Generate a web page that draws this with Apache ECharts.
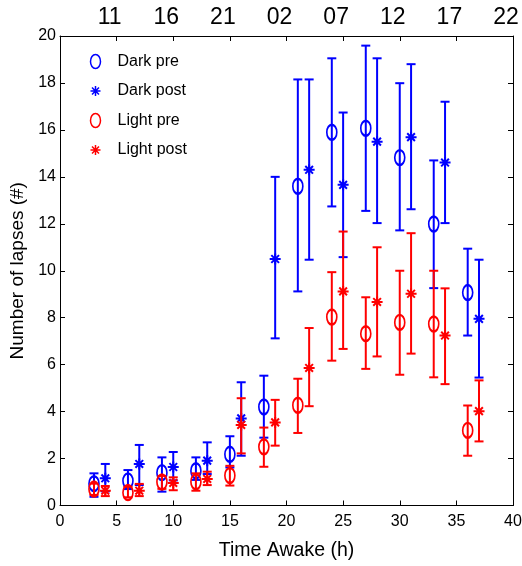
<!DOCTYPE html>
<html>
<head>
<meta charset="utf-8">
<script src="https://cdn.jsdelivr.net/npm/echarts@6/dist/echarts.min.js"></script>
<style>
html,body{margin:0;padding:0;background:#fff;}
#c{width:522px;height:566px;}
</style>
</head>
<body>
<div id="c"></div>
<script>
// ---- data ----
var xPre = [3, 6, 9, 12, 15, 18, 21, 24, 27, 30, 33, 36];
var xPost = [4, 7, 10, 13, 16, 19, 22, 25, 28, 31, 34, 37];

var darkPreMean = [0.93, 1.05, 1.40, 1.48, 2.18, 4.20, 13.60, 15.90, 16.07, 14.82, 11.99, 9.07];
var darkPreLow  = [0.37, 0.70, 0.59, 1.09, 1.62, 2.89, 9.12, 12.74, 12.55, 11.72, 9.26, 7.24];
var darkPreHigh = [1.37, 1.51, 2.05, 2.05, 2.95, 5.53, 18.15, 19.05, 19.59, 17.99, 14.70, 10.94];

var darkPostMean = [1.16, 1.77, 1.64, 1.91, 3.71, 10.50, 14.30, 13.66, 15.50, 15.69, 14.61, 7.95];
var darkPostLow  = [0.60, 0.87, 1.07, 1.34, 2.12, 7.12, 10.47, 10.58, 12.03, 12.62, 12.03, 5.45];
var darkPostHigh = [1.77, 2.58, 2.28, 2.69, 5.25, 14.00, 18.15, 16.74, 19.05, 18.80, 17.20, 10.47];

var lightPreMean = [0.70, 0.55, 1.00, 1.01, 1.28, 2.50, 4.27, 8.03, 7.32, 7.80, 7.73, 3.20];
var lightPreLow  = [0.45, 0.35, 0.71, 0.63, 0.85, 1.65, 3.09, 6.17, 5.82, 5.57, 5.46, 2.12];
var lightPreHigh = [0.93, 0.80, 1.26, 1.37, 1.69, 3.32, 5.40, 9.94, 8.87, 10.00, 10.00, 4.26];

var lightPostMean = [0.63, 0.63, 0.96, 1.13, 3.43, 3.54, 5.86, 9.12, 8.67, 9.02, 7.24, 4.02];
var lightPostLow  = [0.40, 0.40, 0.65, 0.87, 2.22, 2.55, 4.23, 6.67, 6.35, 6.47, 5.17, 2.73];
var lightPostHigh = [0.83, 0.92, 1.20, 1.44, 4.57, 4.50, 7.56, 11.67, 11.00, 11.60, 9.25, 5.33];

var bottomTicks = [0, 5, 10, 15, 20, 25, 30, 35, 40];
var topTickLabels = ['', '11', '16', '21', '02', '07', '12', '17', '22'];
var seriesNames = ['Dark pre', 'Dark post', 'Light pre', 'Light post'];

// ---- build ----
var BLUE = '#0000ff', RED = '#ff0000';
var ELLIPSE = 'path://M0,7C0,3.1 2.2,0 5,0C7.8,0 10,3.1 10,7C10,10.9 7.8,14 5,14C2.2,14 0,10.9 0,7Z';
var STAR = 'path://M5,0L5,10M0,5L10,5M1.5,1.5L8.5,8.5M8.5,1.5L1.5,8.5';

function pts(xs, m) { return xs.map(function (x, i) { return [x, m[i]]; }); }
function bars(xs, lo, hi) { return xs.map(function (x, i) { return [x, lo[i], hi[i]]; }); }

function errRender(color) {
  return function (params, api) {
    var x = api.value(0);
    var p1 = api.coord([x, api.value(1)]);
    var p2 = api.coord([x, api.value(2)]);
    var w = 4.5;
    var st = { stroke: color, lineWidth: 2 };
    return {
      type: 'group',
      children: [
        { type: 'line', shape: { x1: p1[0], y1: p1[1], x2: p2[0], y2: p2[1] }, style: st },
        { type: 'line', shape: { x1: p1[0] - w, y1: p1[1], x2: p1[0] + w, y2: p1[1] }, style: st },
        { type: 'line', shape: { x1: p2[0] - w, y1: p2[1], x2: p2[0] + w, y2: p2[1] }, style: st }
      ]
    };
  };
}

function errSeries(xs, lo, hi, color, z) {
  return { type: 'custom', renderItem: errRender(color), data: bars(xs, lo, hi), z: z, silent: true,
           encode: { x: 0, y: [1, 2] } };
}
function markSeries(name, xs, m, color, sym, size, z) {
  return { name: name, type: 'scatter', data: pts(xs, m), symbol: sym, symbolSize: size, z: z,
           itemStyle: { color: 'none', borderColor: color, borderWidth: 2, opacity: 1 } };
}

var font = 'Liberation Sans, Arial, sans-serif';
var chart = echarts.init(document.getElementById('c'));
chart.setOption({
  animation: false,
  backgroundColor: '#fff',
  grid: { left: 60, right: 9, top: 36, bottom: 60.5, show: false, containLabel: false, outerBoundsMode: 'none' },
  legend: {
    orient: 'vertical', left: 88, top: 52, padding: 0, itemGap: 12,
    itemWidth: 10, itemHeight: 14,
    textStyle: { fontSize: 16, fontFamily: font, color: '#000', padding: [0, 0, 0, 12] },
    data: [
      { name: seriesNames[0], icon: ELLIPSE, itemStyle: { color: 'none', borderColor: BLUE, borderWidth: 1.5 } },
      { name: seriesNames[1], icon: STAR, itemStyle: { color: 'none', borderColor: BLUE, borderWidth: 1.5 } },
      { name: seriesNames[2], icon: ELLIPSE, itemStyle: { color: 'none', borderColor: RED, borderWidth: 1.5 } },
      { name: seriesNames[3], icon: STAR, itemStyle: { color: 'none', borderColor: RED, borderWidth: 1.5 } }
    ]
  },
  xAxis: [
    { type: 'value', position: 'bottom', min: 0, max: 40, interval: 5,
      name: 'Time Awake (h)', nameLocation: 'middle', nameGap: 35,
      nameTextStyle: { fontSize: 19.5, fontFamily: font, color: '#000' },
      axisLine: { show: true, onZero: false, lineStyle: { color: '#000', width: 1 } },
      axisTick: { show: true, inside: true, length: 5, lineStyle: { color: '#000' } },
      axisLabel: { fontSize: 16, fontFamily: font, color: '#000', margin: 8,
        formatter: function (v) { return bottomTicks.indexOf(v) >= 0 ? String(v) : ''; } },
      splitLine: { show: false } },
    { type: 'value', position: 'top', min: 0, max: 40, interval: 5,
      axisLine: { show: true, onZero: false, lineStyle: { color: '#000', width: 1 } },
      axisTick: { show: true, inside: true, length: 5, lineStyle: { color: '#000' } },
      axisLabel: { fontSize: 23, fontFamily: font, color: '#000', margin: 7, padding: [0, 14, 0, 0],
        formatter: function (v) { return topTickLabels[bottomTicks.indexOf(v)] || ''; } },
      splitLine: { show: false } }
  ],
  yAxis: [
    { type: 'value', position: 'left', min: 0, max: 20, interval: 2,
      name: 'Number of lapses (#)', nameLocation: 'middle', nameGap: 31,
      nameTextStyle: { fontSize: 19, fontFamily: font, color: '#000' },
      axisLine: { show: true, onZero: false, lineStyle: { color: '#000', width: 1 } },
      axisTick: { show: true, inside: true, length: 5, lineStyle: { color: '#000' } },
      axisLabel: { fontSize: 16, fontFamily: font, color: '#000', margin: 4 },
      splitLine: { show: false } },
    { type: 'value', position: 'right', min: 0, max: 20, interval: 2,
      axisLine: { show: true, onZero: false, lineStyle: { color: '#000', width: 1 } },
      axisTick: { show: true, inside: true, length: 5, lineStyle: { color: '#000' } },
      axisLabel: { show: false },
      splitLine: { show: false } }
  ],
  series: [
    errSeries(xPre, darkPreLow, darkPreHigh, BLUE, 1),
    markSeries(seriesNames[0], xPre, darkPreMean, BLUE, ELLIPSE, [10, 15], 2),
    errSeries(xPost, darkPostLow, darkPostHigh, BLUE, 3),
    markSeries(seriesNames[1], xPost, darkPostMean, BLUE, STAR, [11, 11], 4),
    errSeries(xPre, lightPreLow, lightPreHigh, RED, 5),
    markSeries(seriesNames[2], xPre, lightPreMean, RED, ELLIPSE, [10, 15], 6),
    errSeries(xPost, lightPostLow, lightPostHigh, RED, 7),
    markSeries(seriesNames[3], xPost, lightPostMean, RED, STAR, [11, 11], 8)
  ]
});
</script>
</body>
</html>
